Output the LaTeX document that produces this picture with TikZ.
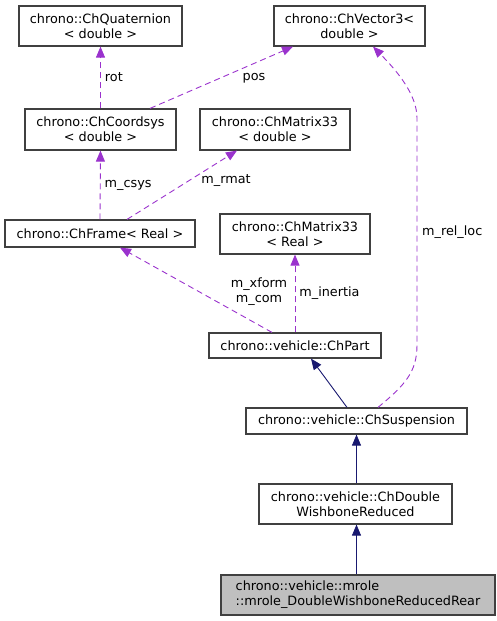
\documentclass[tikz,border=0pt]{standalone}
\usepackage{fontspec}
\setmainfont{DejaVu Sans}
\usetikzlibrary{arrows.meta,calc}
\definecolor{dxpurple}{HTML}{9A32CD}
\definecolor{dxnavy}{HTML}{191970}
\definecolor{dxborder}{HTML}{404040}
\newcommand{\dxfont}{\fontsize{12.8}{15}\selectfont}
\tikzset{cls/.style={draw=dxborder, line width=1.2pt, fill=white, align=center, inner sep=0pt, minimum height=40pt, font=\dxfont}}
\tikzset{member/.style={draw=dxpurple, line width=0.9pt, dash pattern=on 6pt off 4pt, -{Triangle[length=11pt,width=9pt]}}}
\tikzset{inherit/.style={draw=dxnavy, line width=0.9pt, -{Triangle[length=11pt,width=9pt]}}}
\tikzset{lbl/.style={font=\dxfont, inner sep=0pt, align=center}}

\begin{document}
\begin{tikzpicture}[x=1pt,y=-1pt]
		\useasboundingbox (0,0) rectangle (497,621);
		
		\node[cls, minimum width=163pt] (quat) at (100.5,26) {chrono::ChQuaternion\\< double >};
		\node[cls, minimum width=151pt] (vec) at (349.5,26) {chrono::ChVector3<\\double >};
		\node[cls, minimum width=151pt, minimum height=41pt] (csys) at (100.5,129.5) {chrono::ChCoordsys\\< double >};
		\node[cls, minimum width=150pt, minimum height=41pt] (rmat) at (275,129.5) {chrono::ChMatrix33\\< double >};
		\node[cls, minimum width=190pt, minimum height=27pt] (frame) at (100,233.5) {chrono::ChFrame< Real >};
		\node[cls, minimum width=150pt] (inert) at (295,234) {chrono::ChMatrix33\\< Real >};
		\node[cls, minimum width=172pt, minimum height=25pt] (part) at (295,345.5) {chrono::vehicle::ChPart};
		\node[cls, minimum width=221pt, minimum height=26pt] (susp) at (356.5,421) {chrono::vehicle::ChSuspension};
		\node[cls, minimum width=193pt] (dwr) at (355.5,504) {chrono::vehicle::ChDouble\\WishboneReduced};
		\node[cls, minimum width=274pt, fill=black!25, align=left] (rear) at (358,595) {chrono::vehicle::mrole\\::mrole\_DoubleWishboneReducedRear};
		
		% members
		\draw[member] (csys.north) -- node[lbl, right=4pt] {rot} (quat.south);
		\draw[member] ([xshift=49.5pt]csys.north) -- ([xshift=-56.5pt]vec.south);
		\node[lbl] (lpos) at (254,78) {pos};
		\draw[member] (frame.north) -- node[lbl, right=4pt] {m\_csys} (csys.south);
		\draw[member] ([xshift=27pt]frame.north) -- ([xshift=-38pt]rmat.south);
		\node[lbl] (lrmat) at (226,181) {m\_rmat};
		\draw[member] ([xshift=-23pt]part.north) -- ([xshift=20pt]frame.south);
		\node[lbl] (lxform) at (259,291.5) {m\_xform\\m\_com};
		\draw[member] (part.north) -- node[lbl, right=4pt] {m\_inertia} (inert.south);
		\draw[member] ([xshift=21.5pt]susp.north) .. controls (405,385) and (417,372) .. (417,345)
			-- (417,118) .. controls (417,92) and (392,66) .. ([xshift=23.5pt]vec.south);
		\node[lbl, anchor=west] (lrel) at (422,232) {m\_rel\_loc};
		
		% bases
		\draw[inherit] ([xshift=-9.5pt]susp.north) -- ([xshift=16pt]part.south);
		\draw[inherit] (dwr.north -| susp.south) -- (susp.south);
		\draw[inherit] (rear.north -| susp.south) -- (dwr.south -| susp.south);
		
\end{tikzpicture}
\end{document}
